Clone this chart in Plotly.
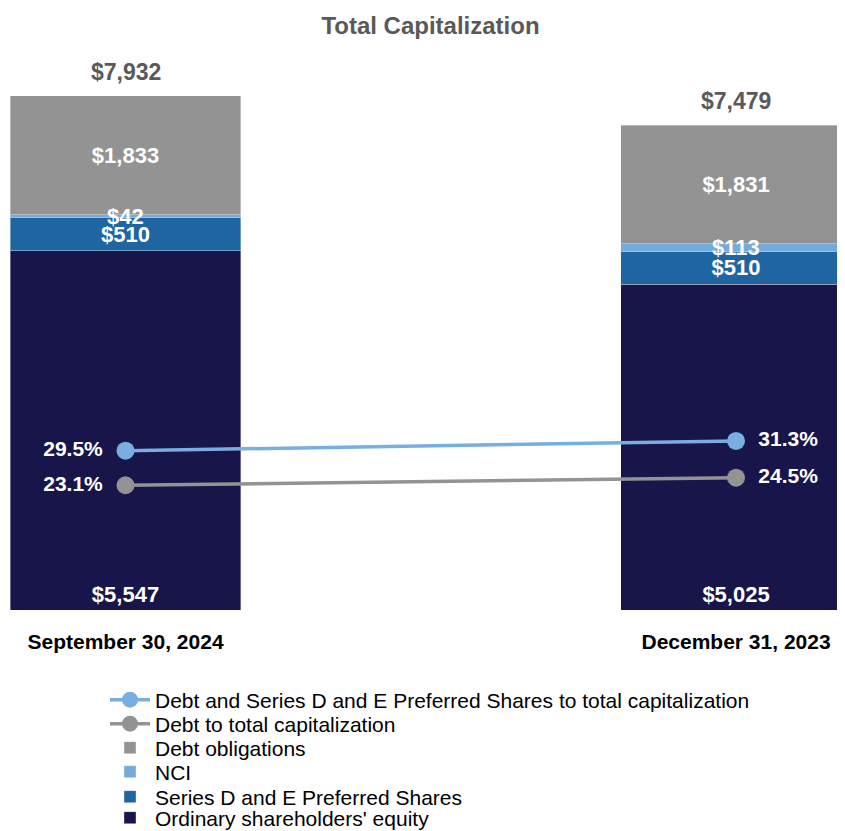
import plotly.graph_objects as go

# data
periods = ["September 30, 2024", "December 31, 2023"]
equity = [5547, 5025]
series_de = [510, 510]
nci = [42, 113]
debt = [1833, 1831]
debt_pref_ratio = [29.5, 31.3]
debt_ratio = [23.1, 24.5]

COLORS = {
    "equity": "#18154a",
    "series": "#1f65a2",
    "nci": "#75abdc",
    "debt": "#939393",
    "line1": "#78aee0",
    "line2": "#939393",
}
FONT = "Liberation Sans, Arial, sans-serif"

totals = [a + b + c + d for a, b, c, d in zip(equity, series_de, nci, debt)]

# plot area in pixels of the figure
PLOT_L, PLOT_R, PLOT_T, PLOT_B = 2, 845, 52, 602
# one legend per row so the row spacing can follow the original
LEGEND_ROWS = [692, 716, 740, 764, 789, 810]


def money(vals):
    return ["${:,}".format(v) for v in vals]


def legend_key(row):
    return "legend" if row == 1 else "legend%d" % row


fig = go.Figure()

# NCI is a thin slice, its label goes in an annotation so the debt bar does not hide it
bars = [
    ("Ordinary shareholders' equity", equity, COLORS["equity"], "start", 6, True),
    ("Series D and E Preferred Shares", series_de, COLORS["series"], "middle", 5, True),
    ("NCI", nci, COLORS["nci"], "middle", 4, False),
    ("Debt obligations", debt, COLORS["debt"], "middle", 3, True),
]
for name, vals, color, anchor, row, inside in bars:
    fig.add_trace(go.Bar(
        x=periods, y=vals, name=name,
        marker_color=color,
        marker_line_color="rgba(255,255,255,0.6)",
        marker_line_width=0.6,
        width=0.378,
        text=money(vals) if inside else None,
        textposition="inside" if inside else "none",
        insidetextanchor=anchor,
        textangle=0,
        constraintext="none",
        textfont=dict(family=FONT, size=22, color="white", weight="bold"),
        legend=legend_key(row),
        hoverinfo="skip",
    ))

lines = [
    ("Debt and Series D and E Preferred Shares to total capitalization", debt_pref_ratio, COLORS["line1"], 1),
    ("Debt to total capitalization", debt_ratio, COLORS["line2"], 2),
]
for name, vals, color, row in lines:
    fig.add_trace(go.Scatter(
        x=periods, y=vals, name=name, yaxis="y2",
        mode="lines+markers+text",
        line=dict(color=color, width=3.5),
        marker=dict(color=color, size=18),
        text=["{:.1f}%\u2002".format(vals[0]), "\u00a0\u2009{:.1f}%".format(vals[1])],
        textposition=["middle left", "middle right"],
        textfont=dict(family=FONT, size=21, color="white", weight="bold"),
        legend=legend_key(row),
        cliponaxis=False,
        hoverinfo="skip",
    ))

for p, e, s, n in zip(periods, equity, series_de, nci):
    fig.add_annotation(
        x=p, y=e + s + n / 2, text="${:,}".format(n), showarrow=False,
        yanchor="middle", yshift=0,
        font=dict(family=FONT, size=22, color="white", weight="bold"),
    )

for p, t in zip(periods, totals):
    fig.add_annotation(
        x=p, y=t, text="${:,}".format(t), showarrow=False,
        yanchor="bottom", yshift=9,
        font=dict(family=FONT, size=23, color="#595959", weight="bold"),
    )

plot_w = PLOT_R - PLOT_L
plot_h = PLOT_B - PLOT_T
legend_style = dict(
    x=(97 - PLOT_L) / plot_w, xanchor="left",
    yanchor="middle", itemwidth=40, bgcolor="rgba(0,0,0,0)",
    font=dict(family=FONT, size=21, color="#000000"),
)
legends = {}
for i, ypx in enumerate(LEGEND_ROWS, start=1):
    legends[legend_key(i)] = dict(legend_style, y=(PLOT_B - ypx) / plot_h)

fig.update_layout(
    width=845, height=831,
    margin=dict(l=PLOT_L, r=845 - PLOT_R, t=PLOT_T, b=831 - PLOT_B),
    paper_bgcolor="white", plot_bgcolor="white",
    barmode="stack",
    font=dict(family=FONT, color="#000000"),
    title=dict(
        text="<b>Total Capitalization</b>", x=0.5, xanchor="center",
        y=1 - 18 / 831, yanchor="middle", yref="container",
        font=dict(family=FONT, size=24, color="#595959"),
    ),
    xaxis=dict(
        range=[-0.1892, 1.1916], showgrid=False, zeroline=False, showline=False,
        ticks="outside", ticklen=13, tickcolor="rgba(0,0,0,0)",
        tickfont=dict(family=FONT, size=21, color="#000000", weight="bold"),
    ),
    yaxis=dict(range=[0, 8487], visible=False),
    yaxis2=dict(range=[0, 101.85], overlaying="y", visible=False),
    showlegend=True,
    **legends,
)

fig.write_html("out.html")
